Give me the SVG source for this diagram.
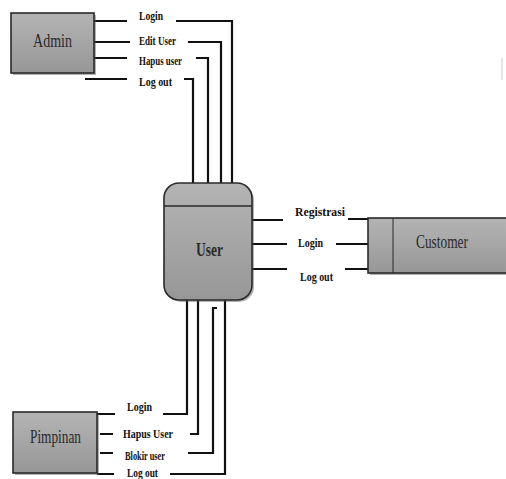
<svg xmlns="http://www.w3.org/2000/svg" width="506" height="479" viewBox="0 0 506 479">
<defs>
<linearGradient id="g" x1="0" y1="0" x2="0" y2="1">
<stop offset="0" stop-color="#b4b4b4"/>
<stop offset="1" stop-color="#979797"/>
</linearGradient>
<style>
.box{fill:url(#g);stroke:#2a2a2a;stroke-width:1.6}
.sh{fill:#555;opacity:0.45}
.name{font-family:"Liberation Serif","Times New Roman",serif;font-size:18px;fill:#2a2a2a}
.lbl{font-family:"Liberation Serif","Times New Roman",serif;font-size:12px;font-weight:bold;fill:#111}
.c{fill:none;stroke:#111;stroke-width:2.2}
</style>
</defs>
<rect width="506" height="479" fill="#fff"/>
<line x1="502" y1="58" x2="502" y2="80" stroke="#ddd" stroke-width="1.5"/>

<g id="connectors">
<path class="c" d="M94 21H127M176 21H232V183"/>
<path class="c" d="M94 42H130M188 42H221V183"/>
<path class="c" d="M94 58H127M196 58H208V183"/>
<path class="c" d="M85 79H127M184 79H193V183"/>
<path class="c" d="M252 220H283M348 219H368"/>
<path class="c" d="M252 244H287M336 244H368"/>
<path class="c" d="M252 269H287M345 269H368"/>
<path class="c" d="M97 414H115M163 414H187V300"/>
<path class="c" d="M100 434H113M190 434H198V300"/>
<path class="c" d="M100 453H113M188 453H213V308H217"/>
<path class="c" d="M97 474H114M170 474H225V300"/>
</g>

<g id="labels">
<text class="lbl" x="139" y="20" textLength="24" lengthAdjust="spacingAndGlyphs">Login</text>
<text class="lbl" x="139" y="45" textLength="37" lengthAdjust="spacingAndGlyphs">Edit User</text>
<text class="lbl" x="139" y="65" textLength="43" lengthAdjust="spacingAndGlyphs">Hapus user</text>
<text class="lbl" x="139" y="86" textLength="33" lengthAdjust="spacingAndGlyphs">Log out</text>
<text class="lbl" x="295" y="216" textLength="50" lengthAdjust="spacingAndGlyphs">Registrasi</text>
<text class="lbl" x="298" y="247" textLength="25" lengthAdjust="spacingAndGlyphs">Login</text>
<text class="lbl" x="300" y="281" textLength="33" lengthAdjust="spacingAndGlyphs">Log out</text>
<text class="lbl" x="127" y="411" textLength="25" lengthAdjust="spacingAndGlyphs">Login</text>
<text class="lbl" x="123" y="438" textLength="50" lengthAdjust="spacingAndGlyphs">Hapus User</text>
<text class="lbl" x="125" y="460" textLength="40" lengthAdjust="spacingAndGlyphs">Blokir user</text>
<text class="lbl" x="127" y="477" textLength="31" lengthAdjust="spacingAndGlyphs">Log out</text>
</g>

<g id="admin">
<rect class="sh" x="13" y="15" width="83" height="60"/>
<rect class="box" x="11" y="13" width="83" height="60"/>
<text class="name" x="52.5" y="47" text-anchor="middle" textLength="39" lengthAdjust="spacingAndGlyphs">Admin</text>
</g>

<g id="user">
<rect class="sh" x="166" y="185" width="88" height="117" rx="15"/>
<rect class="box" x="164" y="183" width="88" height="117" rx="15"/>
<line x1="164" y1="206" x2="252" y2="206" stroke="#2a2a2a" stroke-width="1.6"/>
<text class="name" x="209.5" y="256" text-anchor="middle" font-weight="bold" font-size="20" textLength="27" lengthAdjust="spacingAndGlyphs">User</text>
</g>

<g id="customer">
<rect class="sh" x="370" y="220" width="140" height="55"/>
<rect class="box" x="368" y="218" width="142" height="55"/>
<line x1="393" y1="218" x2="393" y2="273" stroke="#2a2a2a" stroke-width="1"/>
<text class="name" x="442" y="248" text-anchor="middle" textLength="52" lengthAdjust="spacingAndGlyphs">Customer</text>
</g>

<g id="pimpinan">
<rect class="sh" x="15" y="414" width="84" height="61"/>
<rect class="box" x="13" y="412" width="84" height="61"/>
<text class="name" x="55.5" y="443" text-anchor="middle" textLength="51" lengthAdjust="spacingAndGlyphs">Pimpinan</text>
</g>
</svg>
